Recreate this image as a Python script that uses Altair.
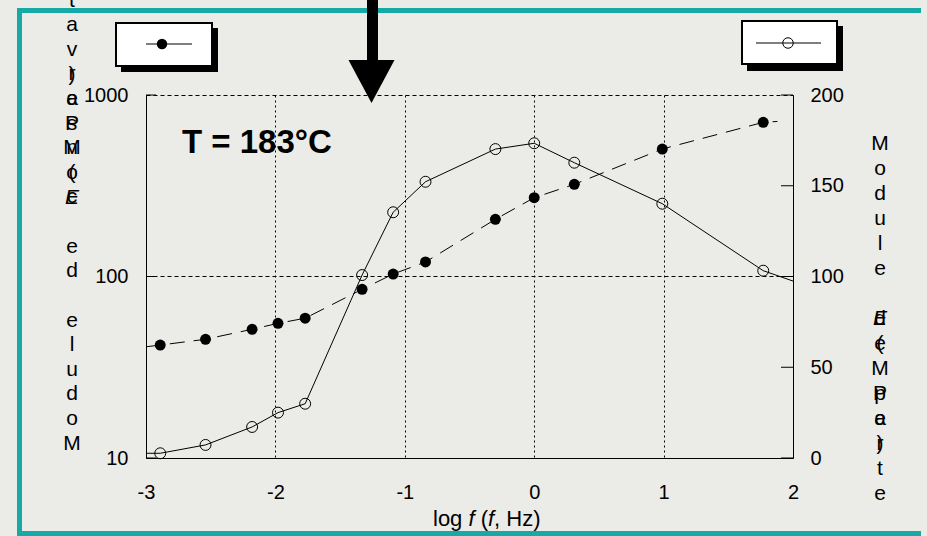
import altair as alt
import pandas as pd

# log10 of the test frequency (Hz)
log_f = [-2.89, -2.54, -2.18, -1.98, -1.77, -1.33, -1.09, -0.84, -0.30, 0.00, 0.31, 0.99, 1.77]
# storage modulus E' (MPa), left logarithmic axis, filled symbols
e_storage = [41.9, 45.1, 51.2, 55.2, 58.9, 85.0, 103.2, 120.2, 206.6, 271.7, 322.0, 504.0, 707.0]
# loss modulus E'' (MPa), right linear axis, open symbols
e_loss = [2.6, 7.2, 17.1, 25.0, 29.9, 100.8, 135.4, 152.2, 170.2, 173.4, 162.7, 140.1, 103.2]

# where each curve starts and stops beyond the measured points
storage_ends_x = [-3.0, 1.88]
storage_ends_y = [41.0, 715.0]
loss_ends_x = [-3.0, 2.0]
loss_ends_y = [2.6, 97.5]

x_ticks = [-3, -2, -1, 0, 1, 2]
left_ticks = [10, 100, 1000]
right_ticks = [0, 50, 100, 150, 200]

temperature_label = "T = 183°C"
left_title = "Module de conservation"
right_title = "Module de perte"
unit = "(MPa)"

FONT = "Liberation Sans"
TEAL = "#17a9a6"
PAPER = "#ebebe7"
NBSP = "\u00a0"
W, H = 647, 363          # plot area
LEFT, TOP = 146, 95      # plot origin on the page
PAGE_W, PAGE_H = 927, 536

dummy = pd.DataFrame({"k": [0]})


def px(x):
    return x - LEFT


def py(y):
    return y - TOP


def text_at(text, x, y, size=20, **kw):
    return alt.Chart(dummy).mark_text(
        text=text, font=FONT, fontSize=size, color="black", **kw
    ).encode(x=alt.value(px(x)), y=alt.value(py(y)))


def rect_at(x, y, x2, y2, **kw):
    return alt.Chart(dummy).mark_rect(**kw).encode(
        x=alt.value(px(x)), x2=alt.value(px(x2)),
        y=alt.value(py(y)), y2=alt.value(py(y2)),
    )


def stacked(s, x, y0, step, size=21, **kw):
    """Write s one character per line; character i is centred at y0 + i*step."""
    layers = []
    i = 0
    for word in s.split(" "):
        if word:
            chars = list(word)
            if step < 0:
                # text read upwards: first character at the bottom
                top_center = y0 + (i + len(chars) - 1) * step
                chars = chars[::-1]
            else:
                top_center = y0 + i * step
            layers.append(text_at(chars, x, top_center - 9.5, size=size,
                                  align="center", baseline="top",
                                  lineHeight=abs(step), **kw))
        i += len(word) + 1
    return alt.layer(*layers)


points = pd.DataFrame({"x": log_f, "storage": e_storage, "loss": e_loss})
storage_curve = pd.DataFrame({
    "x": [storage_ends_x[0]] + log_f + [storage_ends_x[1]],
    "y": [storage_ends_y[0]] + e_storage + [storage_ends_y[1]],
})
loss_curve = pd.DataFrame({
    "x": [loss_ends_x[0]] + log_f + [loss_ends_x[1]],
    "y": [loss_ends_y[0]] + e_loss + [loss_ends_y[1]],
})

label_style = dict(labelFont=FONT, labelFontSize=20, labelColor="black",
                   domainColor="black", domainWidth=1, ticks=False, tickSize=0,
                   title=None, labelExpr="'' + datum.value",
                   labelFlush=False, labelOverlap=False)

x_scale = alt.Scale(domain=[-3, 2], nice=False, zero=False)
x_axis = alt.Axis(values=x_ticks, grid=True, gridDash=[2, 3],
                  gridColor="black", gridWidth=1, gridOpacity=1,
                  labelPadding=24, **label_style)
x_enc = alt.X("x:Q", scale=x_scale, axis=x_axis)

left_scale = alt.Scale(type="log", domain=[10, 1000], nice=False)
left_axis = alt.Axis(orient="left", values=left_ticks, grid=True,
                     gridDash=[4, 3], gridColor="black", gridWidth=1,
                     gridOpacity=1, labelPadding=18, **label_style)
right_scale = alt.Scale(domain=[0, 200], nice=False, zero=True)
right_axis = alt.Axis(orient="right", values=right_ticks, grid=False,
                      labelPadding=17, **label_style)

# storage modulus: dashed curve, filled circles
storage_line = alt.Chart(storage_curve).mark_line(
    color="black", strokeWidth=1, strokeDash=[15, 9]
).encode(x=x_enc, y=alt.Y("y:Q", scale=left_scale, axis=left_axis))
storage_pts = alt.Chart(points).mark_point(
    shape="circle", filled=True, size=120, color="black", opacity=1
).encode(x=x_enc, y=alt.Y("storage:Q", scale=left_scale, axis=left_axis))
left_marks = alt.Chart(pd.DataFrame({"y": left_ticks})).mark_rule(
    color="black", strokeWidth=1
).encode(y=alt.Y("y:Q", scale=left_scale, axis=left_axis),
         x=alt.value(0), x2=alt.value(10))
left_group = alt.layer(storage_line, left_marks, storage_pts)

# loss modulus: solid curve, open circles
loss_line = alt.Chart(loss_curve).mark_line(
    color="black", strokeWidth=1
).encode(x=x_enc, y=alt.Y("y:Q", scale=right_scale, axis=right_axis))
loss_pts = alt.Chart(points).mark_point(
    shape="circle", filled=False, size=120, stroke="black", strokeWidth=1,
    opacity=1
).encode(x=x_enc, y=alt.Y("loss:Q", scale=right_scale, axis=right_axis))
right_marks = alt.Chart(pd.DataFrame({"y": right_ticks})).mark_rule(
    color="black", strokeWidth=1
).encode(y=alt.Y("y:Q", scale=right_scale, axis=right_axis),
         x=alt.value(W - 12), x2=alt.value(W))
right_group = alt.layer(loss_line, right_marks, loss_pts)

# teal frame: left, top and bottom edges, open on the right
FRAME_R = 921
frame = alt.layer(
    rect_at(17, 8, FRAME_R, 13, fill=TEAL),
    rect_at(17, 531, FRAME_R, 536, fill=TEAL),
    rect_at(17, 8, 22, 536, fill=TEAL),
)

# legend boxes with drop shadows
legend_storage = alt.layer(
    rect_at(121, 28, 218, 72, fill="black"),
    rect_at(116, 23, 212, 66, fill="white", stroke="black", strokeWidth=2),
    alt.Chart(dummy).mark_rule(color="black", strokeWidth=1).encode(
        x=alt.value(px(146)), x2=alt.value(px(192)), y=alt.value(py(44))),
    alt.Chart(dummy).mark_point(shape="circle", filled=True, size=110,
                                color="black", opacity=1).encode(
        x=alt.value(px(162)), y=alt.value(py(44))),
)
legend_loss = alt.layer(
    rect_at(747, 26, 843, 71, fill="black"),
    rect_at(742, 21, 837, 64, fill="white", stroke="black", strokeWidth=2),
    alt.Chart(dummy).mark_rule(color="black", strokeWidth=1).encode(
        x=alt.value(px(756)), x2=alt.value(px(821)), y=alt.value(py(43))),
    alt.Chart(dummy).mark_point(shape="circle", filled=False, size=110,
                                stroke="black", strokeWidth=1, fill="white",
                                fillOpacity=0, opacity=1).encode(
        x=alt.value(px(788)), y=alt.value(py(43))),
)

# arrow pointing down onto the plot
arrow = alt.layer(
    rect_at(367, -5, 378, 62, fill="black"),
    alt.Chart(dummy).mark_point(
        shape="M-1,-0.93L1,-0.93L0,0.93Z", size=46 * 46, filled=True,
        color="black", opacity=1
    ).encode(x=alt.value(px(371.5)), y=alt.value(py(81.5))),
)

# vertical axis titles, one character per line, with the unit stacked over
# the second half of each title
LH_L, LH_R = 24.6, 25.0
L_X, L_Y0 = 72, 442        # left title reads upwards from its bottom letter
R_X, R_Y0 = 880, 142       # right title reads downwards from its top letter
titles = alt.layer(
    stacked(left_title, L_X, L_Y0, -LH_L),
    stacked("E", L_X, L_Y0 - 10 * LH_L, -LH_L, fontStyle="italic"),
    stacked(unit, L_X, L_Y0 - 11 * LH_L, -LH_L),
    stacked(right_title, R_X, R_Y0, LH_R),
    stacked("E", R_X, R_Y0 + 7 * LH_R, LH_R, fontStyle="italic"),
    stacked(unit, R_X, R_Y0 + 8 * LH_R, LH_R),
)

# x-axis title with italic f
xt_base = 526
x_title = alt.layer(
    text_at("log", 433, xt_base, size=22, align="left", baseline="alphabetic"),
    text_at("f", 468.5, xt_base, size=22, align="left", baseline="alphabetic",
            fontStyle="italic"),
    text_at("(", 480.7, xt_base, size=22, align="left", baseline="alphabetic"),
    text_at("f", 488.0, xt_base, size=22, align="left", baseline="alphabetic",
            fontStyle="italic"),
    text_at("," + NBSP + "Hz)", 494.1, xt_base, size=22, align="left",
            baseline="alphabetic"),
)

temp = text_at(temperature_label, 182, 153, size=33, align="left",
               baseline="alphabetic", fontWeight="bold")

chart = alt.layer(
    frame, legend_storage, legend_loss, left_group, right_group,
    arrow, titles, x_title, temp,
).resolve_scale(y="independent").properties(
    width=W, height=H,
    padding={"left": LEFT, "top": TOP, "right": PAGE_W - LEFT - W,
             "bottom": PAGE_H - TOP - H},
    autosize=alt.AutoSizeParams(type="none"),
    background=PAPER,
).configure_view(strokeWidth=0)

chart.save("out.html", embed_options={"renderer": "svg", "actions": False})
